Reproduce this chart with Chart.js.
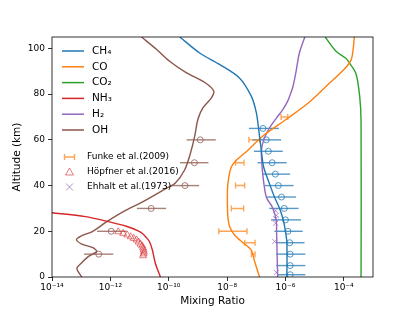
<!DOCTYPE html>
<html>
<head>
<meta charset="utf-8">
<script src="https://cdn.jsdelivr.net/npm/chart.js@4.4.1/dist/chart.umd.min.js"></script>
<style>
html, body { margin: 0; padding: 0; background: #fff; }
canvas { display: block; }
</style>
</head>
<body>
<canvas id="chartMix" width="415" height="311"></canvas>
<script>
'use strict'

// model profiles (altitude km, mixing ratio)
const ch4Alt = [0, 15, 20, 25, 30, 35, 41, 48, 55, 65, 72, 79, 87, 93, 98, 105];
const ch4Val = [1.12e-6, 1.12e-6, 1.0e-6, 8.4e-7, 6.3e-7, 4.2e-7, 2.8e-7, 1.8e-7, 1.5e-7, 1.2e-7, 1.0e-7, 6.8e-8, 2.7e-8, 5.5e-9, 1.15e-9, 2.4e-10];

const coAlt = [0, 7, 11.7, 15, 18.4, 22, 26, 34, 41, 48, 51, 55.5, 61.7, 69, 76, 83.5, 91, 95, 100, 105];
const coVal = [1.29e-7, 8.7e-8, 6.8e-8, 3.5e-8, 1.8e-8, 1.23e-8, 1.07e-8, 1.02e-8, 1.07e-8, 1.38e-8, 2.04e-8, 5.2e-8, 1.7e-7, 1.07e-6, 5.9e-6, 2.5e-5, 1.05e-4, 1.78e-4, 2.1e-4, 2.3e-4];

const co2Alt = [0, 68, 79, 89, 93.7, 95.6, 98.8, 105];
const co2Val = [3.9e-4, 3.9e-4, 3.5e-4, 2.6e-4, 1.55e-4, 1.2e-4, 5.4e-5, 2.3e-5];

const nh3Alt = [0, 5.9, 11.8, 15.4, 17, 19.5, 22.2, 24.2, 26.4, 28.1, 28.8];
const nh3Val = [5.2e-11, 3.5e-11, 2.75e-11, 2.2e-11, 1.78e-11, 1.12e-11, 3.5e-12, 8.5e-13, 1.4e-13, 1e-14, 3e-15];

const h2Alt = [0, 18, 25, 30.7, 35, 44, 50, 55.5, 60, 64, 67, 70, 73, 76.7, 80, 83, 89, 98, 105];
const h2Val = [5.4e-7, 5.0e-7, 4.8e-7, 3.5e-7, 2.2e-7, 1.7e-7, 1.55e-7, 1.5e-7, 1.8e-7, 2.5e-7, 3.5e-7, 5.2e-7, 7.9e-7, 1.17e-6, 1.48e-6, 1.78e-6, 2.24e-6, 3.0e-6, 4.6e-6];

const ohAlt = [0, 3.7, 6, 9, 11.2, 12.8, 14.4, 16.3, 17.8, 20, 24.2, 29, 33, 38.8, 41, 46.8, 54, 61.7, 69, 74, 78.4, 81.3, 85, 89.3, 94.4, 99.6, 105];
const ohVal = [1.05e-13, 7.1e-14, 1.0e-13, 1.78e-13, 3.4e-13, 2.5e-13, 1.05e-13, 6.9e-14, 9.5e-14, 2.5e-13, 7.6e-13, 3.2e-12, 1.32e-11, 8.3e-11, 1.66e-10, 3.5e-10, 5.5e-10, 7.8e-10, 1.0e-9, 1.48e-9, 2.9e-9, 3.5e-9, 1.78e-9, 4.1e-10, 1.07e-10, 3.8e-11, 1.17e-11];

// observations
const ch4ObsAlt = [65, 60, 55, 50, 45, 40, 35, 30, 25, 20, 15, 10, 5, 1];
const ch4ObsVal = [1.7e-7, 2.2e-7, 2.6e-7, 3.5e-7, 4.5e-7, 5.7e-7, 7.3e-7, 9.1e-7, 1.0e-6, 1.22e-6, 1.4e-6, 1.45e-6, 1.45e-6, 1.45e-6];
const ch4ObsLo = [5.6e-8, 7.4e-8, 8.3e-8, 1.1e-7, 1.6e-7, 2.0e-7, 2.3e-7, 2.8e-7, 3.2e-7, 4.2e-7, 4.7e-7, 4.8e-7, 4.8e-7, 5.2e-7];
const ch4ObsHi = [5.9e-7, 7.1e-7, 8.1e-7, 1.1e-6, 1.45e-6, 1.9e-6, 2.3e-6, 2.8e-6, 3.4e-6, 3.9e-6, 4.5e-6, 4.8e-6, 4.8e-6, 4.8e-6];

const funkeAlt = [70, 60, 50, 40, 30, 20, 15, 10];
const funkeLo = [7.1e-7, 5.6e-8, 1.95e-8, 1.95e-8, 1.4e-8, 5.2e-9, 4.0e-8, 6.8e-8];
const funkeHi = [1.2e-6, 1.3e-7, 3.8e-8, 4.0e-8, 3.7e-8, 4.8e-8, 9.1e-8, 9.1e-8];

const ohObsAlt = [60, 50, 40, 30, 20, 10];
const ohObsVal = [1.2e-9, 7.6e-10, 3.6e-10, 2.5e-11, 1.07e-12, 4.0e-13];
const ohObsLo = [4.1e-10, 2.45e-10, 1.1e-10, 8.1e-12, 3.5e-13, 1.26e-13];
const ohObsHi = [4.1e-9, 2.3e-9, 1.1e-9, 8.1e-11, 3.6e-12, 1.26e-12];

const hopfnerAlt = [19.8, 19.1, 18.4, 17.6, 16.9, 16.2, 15.3, 14.4, 13.6, 12.7, 11.8, 10.9, 10.1, 9.3];
const hopfnerVal = [1.86e-12, 2.75e-12, 3.8e-12, 5.0e-12, 6.3e-12, 7.9e-12, 9.3e-12, 1.07e-11, 1.23e-11, 1.32e-11, 1.38e-11, 1.41e-11, 1.38e-11, 1.32e-11];

const ehhaltAlt = [29, 27, 25.5, 23.5, 15.5, 2];
const ehhaltVal = [4.6e-7, 4.9e-7, 4.6e-7, 4.6e-7, 4.3e-7, 4.9e-7];

const xTickVals = [1e-14, 1e-12, 1e-10, 1e-8, 1e-6, 1e-4];
const yTickVals = [0, 20, 40, 60, 80, 100];
const lineLabels = ['CH₄', 'CO', 'CO₂', 'NH₃', 'H₂', 'OH'];
const obsLabels = ['Funke et al.(2009)', 'Höpfner et al.(2016)', 'Ehhalt et al.(1973)'];

const colors = {
	blue: '#1f77b4',
	orange: '#ff7f0e',
	green: '#2ca02c',
	red: '#d62728',
	purple: '#9467bd',
	brown: '#8c564b',
	blueA: 'rgba(31, 119, 180, 0.75)',
	orangeA: 'rgba(255, 127, 14, 0.7)',
	redA: 'rgba(214, 39, 40, 0.6)',
	purpleA: 'rgba(148, 103, 189, 0.7)',
	brownA: 'rgba(140, 86, 75, 0.75)',
};
const lineColors = [colors.blue, colors.orange, colors.green, colors.red, colors.purple, colors.brown];
const font = 'DejaVu Sans';

function pts(alt, val) {
	return alt.map((a, i) => ({ x: val[i], y: a }));
}

function profile(label, alt, val, color) {
	return {
		label: label,
		data: pts(alt, val),
		showLine: true,
		borderColor: color,
		backgroundColor: color,
		borderWidth: 1.4,
		pointRadius: 0,
		tension: 0.3,
	};
}

function markers(label, alt, val, color, style, r) {
	return {
		label: label,
		data: pts(alt, val),
		showLine: false,
		pointStyle: style,
		pointRadius: r,
		borderWidth: 1,
		borderColor: color,
		backgroundColor: 'rgba(0,0,0,0)',
	};
}

const errorGroups = [
	{ alt: ch4ObsAlt, lo: ch4ObsLo, hi: ch4ObsHi, color: colors.blueA, cap: 0 },
	{ alt: ohObsAlt, lo: ohObsLo, hi: ohObsHi, color: colors.brownA, cap: 0 },
	{ alt: funkeAlt, lo: funkeLo, hi: funkeHi, color: colors.orangeA, cap: 3 },
];

const supMap = { '-': '⁻', '0': '⁰', '1': '¹', '2': '²', '3': '³', '4': '⁴', '5': '⁵', '6': '⁶', '7': '⁷', '8': '⁸', '9': '⁹' };
function powLabel(v) {
	const e = Math.round(Math.log10(v));
	return '10' + String(e).split('').map(c => supMap[c]).join('');
}

// horizontal error bars, drawn under the markers
const errorBars = {
	id: 'errorBars',
	beforeDatasetsDraw(chart) {
		const { ctx, scales: { x, y }, chartArea } = chart;
		ctx.save();
		ctx.beginPath();
		ctx.rect(chartArea.left, chartArea.top, chartArea.right - chartArea.left, chartArea.bottom - chartArea.top);
		ctx.clip();
		errorGroups.forEach(g => {
			ctx.strokeStyle = g.color;
			ctx.lineWidth = 1.4;
			g.alt.forEach((a, i) => {
				const py = y.getPixelForValue(a);
				const x0 = x.getPixelForValue(g.lo[i]);
				const x1 = x.getPixelForValue(g.hi[i]);
				ctx.beginPath();
				ctx.moveTo(x0, py);
				ctx.lineTo(x1, py);
				if (g.cap) {
					ctx.moveTo(x0, py - g.cap);
					ctx.lineTo(x0, py + g.cap);
					ctx.moveTo(x1, py - g.cap);
					ctx.lineTo(x1, py + g.cap);
				}
				ctx.stroke();
			});
		});
		ctx.restore();
	},
};

// axes box and the two legends
const frameAndLegend = {
	id: 'frameAndLegend',
	afterDraw(chart) {
		const { ctx, chartArea: a } = chart;
		ctx.save();
		ctx.strokeStyle = '#000';
		ctx.lineWidth = 0.8;
		ctx.strokeRect(a.left, a.top, a.right - a.left, a.bottom - a.top);

		ctx.textBaseline = 'middle';
		ctx.textAlign = 'left';
		ctx.fillStyle = '#000';
		ctx.font = '10.5px "' + font + '"';
		lineLabels.forEach((lab, i) => {
			const ly = 51 + i * 15.8;
			ctx.strokeStyle = lineColors[i];
			ctx.lineWidth = 1.5;
			ctx.beginPath();
			ctx.moveTo(62, ly);
			ctx.lineTo(84, ly);
			ctx.stroke();
			ctx.fillText(lab, 92, ly);
		});

		const mx = 69.5;
		const my = [157, 172, 187];
		ctx.font = '9px "' + font + '"';
		obsLabels.forEach((lab, i) => ctx.fillText(lab, 87, my[i]));

		ctx.lineWidth = 1.4;
		ctx.strokeStyle = colors.orangeA;
		ctx.beginPath();
		ctx.moveTo(mx - 5, my[0]);
		ctx.lineTo(mx + 5, my[0]);
		ctx.moveTo(mx - 5, my[0] - 3);
		ctx.lineTo(mx - 5, my[0] + 3);
		ctx.moveTo(mx + 5, my[0] - 3);
		ctx.lineTo(mx + 5, my[0] + 3);
		ctx.stroke();

		ctx.lineWidth = 1;
		ctx.strokeStyle = colors.redA;
		ctx.beginPath();
		ctx.moveTo(mx, my[1] - 4);
		ctx.lineTo(mx + 4, my[1] + 3);
		ctx.lineTo(mx - 4, my[1] + 3);
		ctx.closePath();
		ctx.stroke();

		ctx.strokeStyle = colors.purpleA;
		ctx.beginPath();
		ctx.moveTo(mx - 3.5, my[2] - 3.5);
		ctx.lineTo(mx + 3.5, my[2] + 3.5);
		ctx.moveTo(mx + 3.5, my[2] - 3.5);
		ctx.lineTo(mx - 3.5, my[2] + 3.5);
		ctx.stroke();
		ctx.restore();
	},
};

const tickFont = { family: font, size: 9 };
const titleFont = { family: font, size: 10.5 };

new Chart(document.getElementById('chartMix'), {
	type: 'scatter',
	data: {
		datasets: [
			profile('CH4', ch4Alt, ch4Val, colors.blue),
			profile('CO', coAlt, coVal, colors.orange),
			profile('CO2', co2Alt, co2Val, colors.green),
			profile('NH3', nh3Alt, nh3Val, colors.red),
			profile('H2', h2Alt, h2Val, colors.purple),
			profile('OH', ohAlt, ohVal, colors.brown),
			markers('CH4 obs', ch4ObsAlt, ch4ObsVal, colors.blueA, 'circle', 3),
			markers('OH obs', ohObsAlt, ohObsVal, colors.brownA, 'circle', 3),
			markers('Hopfner', hopfnerAlt, hopfnerVal, colors.redA, 'triangle', 4),
			markers('Ehhalt', ehhaltAlt, ehhaltVal, colors.purpleA, 'crossRot', 3.5),
		],
	},
	options: {
		responsive: false,
		animation: false,
		layout: { padding: { left: 0, top: 37, right: 42, bottom: 0 } },
		plugins: {
			legend: { display: false },
			tooltip: { enabled: false },
		},
		scales: {
			x: {
				type: 'logarithmic',
				min: 1e-14,
				max: 1e-3,
				afterBuildTicks: s => { s.ticks = xTickVals.map(v => ({ value: v })); },
				afterFit: s => { s.height = 34; },
				border: { display: false },
				grid: { drawOnChartArea: false, tickLength: 4, color: '#000', lineWidth: 0.8 },
				ticks: { font: tickFont, color: '#000', padding: 1, maxRotation: 0, autoSkip: false, callback: v => powLabel(v) },
				title: { display: true, text: 'Mixing Ratio', font: titleFont, color: '#000', padding: { top: 0, bottom: 3 } },
			},
			y: {
				type: 'linear',
				min: 0,
				max: 105,
				afterBuildTicks: s => { s.ticks = yTickVals.map(v => ({ value: v })); },
				afterFit: s => { s.width = 52; },
				border: { display: false },
				grid: { drawOnChartArea: false, tickLength: 4, color: '#000', lineWidth: 0.8 },
				ticks: { font: tickFont, color: '#000', padding: 3 },
				title: { display: true, text: 'Altitude (km)', font: titleFont, color: '#000', padding: { top: 11, bottom: 0 } },
			},
		},
	},
	plugins: [errorBars, frameAndLegend],
});
</script>
</body>
</html>
